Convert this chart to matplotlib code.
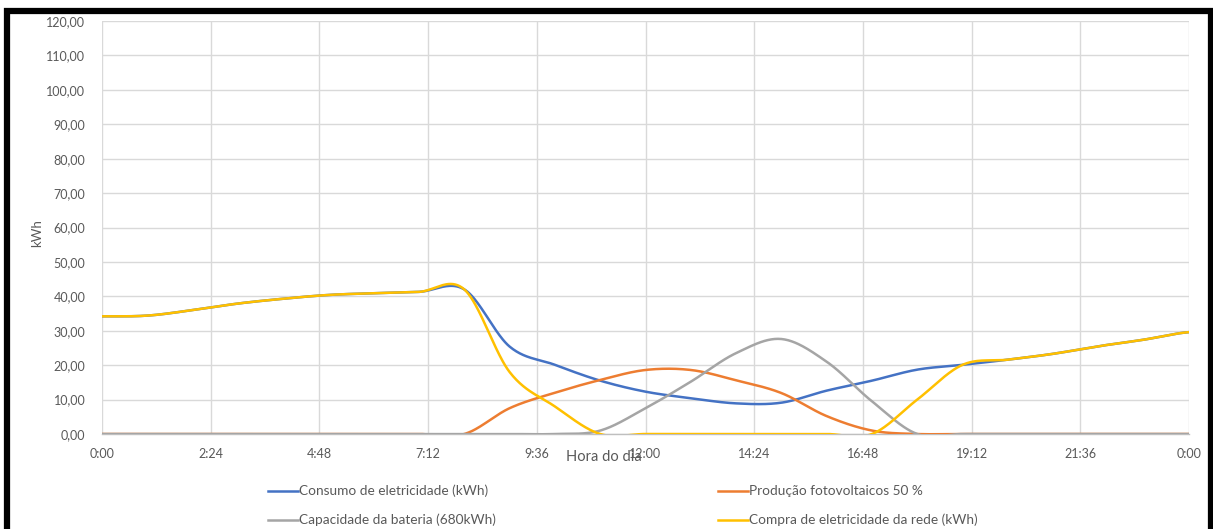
import numpy as np
import matplotlib
matplotlib.use("Agg")
import matplotlib.pyplot as plt
from matplotlib.patches import Rectangle
from matplotlib.lines import Line2D

plt.rcParams['font.family'] = ['Lato', 'DejaVu Sans']

# Hourly readings (hour of day 0..24)
hours = list(range(25))
consumo = [34.2, 34.4, 36.0, 37.9, 39.3, 40.4, 40.9, 41.3, 42.0, 25.4, 20.1, 15.5, 12.3,
           10.4, 8.9, 9.1, 12.6, 15.5, 18.7, 20.1, 21.6, 23.3, 25.5, 27.4, 29.6]
producao_pv = [0, 0, 0, 0, 0, 0, 0, 0, 0, 7.5, 12.0, 15.7, 18.6,
               18.6, 15.6, 11.9, 5.2, 1.0, 0, 0, 0, 0, 0, 0, 0]
bateria = [0, 0, 0, 0, 0, 0, 0, 0, 0, 0, 0, 1.0, 7.5,
           15.2, 23.5, 27.6, 21.0, 9.5, 0, 0, 0, 0, 0, 0, 0]
compra_rede = [34.2, 34.4, 36.0, 37.9, 39.3, 40.4, 40.9, 41.3, 42.0, 18.0, 8.0, 0, 0,
               0, 0, 0, 0, 0, 10.0, 20.1, 21.6, 23.3, 25.5, 27.4, 29.6]

series_labels = ["Consumo de eletricidade (kWh)", "Produção fotovoltaicos 50 %",
                 "Capacidade da bateria (680kWh)", "Compra de eletricidade da rede (kWh)"]
series_colors = ["#4472C4", "#ED7D31", "#A5A5A5", "#FFC000"]

x_ticks = [0, 2.4, 4.8, 7.2, 9.6, 12.0, 14.4, 16.8, 19.2, 21.6, 24.0]
x_ticklabels = ["0:00", "2:24", "4:48", "7:12", "9:36", "12:00", "14:24", "16:48",
                "19:12", "21:36", "0:00"]
y_ticks = list(range(0, 121, 10))
y_ticklabels = [f"{v},00" for v in y_ticks]


def smooth(xs, ys, n=40):
    """Cardinal (Catmull-Rom) spline through the points, like a smoothed line chart."""
    xs = np.asarray(xs, float)
    ys = np.asarray(ys, float)
    m = len(ys)
    t = np.empty(m)
    t[1:-1] = (ys[2:] - ys[:-2]) / 2.0
    t[0] = (ys[1] - ys[0]) / 2.0
    t[-1] = (ys[-1] - ys[-2]) / 2.0
    out_x, out_y = [], []
    for i in range(m - 1):
        s = np.linspace(0, 1, n, endpoint=(i == m - 2))
        h00 = 2 * s**3 - 3 * s**2 + 1
        h10 = s**3 - 2 * s**2 + s
        h01 = -2 * s**3 + 3 * s**2
        h11 = s**3 - s**2
        out_y.append(h00 * ys[i] + h10 * t[i] + h01 * ys[i + 1] + h11 * t[i + 1])
        out_x.append(xs[i] + s * (xs[i + 1] - xs[i]))
    return np.concatenate(out_x), np.concatenate(out_y)


W, H = 1213, 529
fig = plt.figure(figsize=(W / 100, H / 100), dpi=100)
fig.patch.set_facecolor("white")

# plot area in pixels: left 102, right 1189, top 21, bottom 434
left, right, top, bottom = 102, 1189, 21, 434
ax = fig.add_axes([left / W, 1 - bottom / H, (right - left) / W, (bottom - top) / H])

for ys, col in zip([consumo, producao_pv, bateria, compra_rede], series_colors):
    sx, sy = smooth(hours, ys)
    ax.plot(sx, sy, color=col, lw=1.8, solid_capstyle="round", zorder=3)

ax.set_xlim(0, 24)
ax.set_ylim(0, 120)
ax.set_xticks(x_ticks)
ax.set_xticklabels(x_ticklabels)
ax.set_yticks(y_ticks)
ax.set_yticklabels(y_ticklabels)
ax.grid(True, color="#D9D9D9", lw=1.0)
ax.set_axisbelow(True)
for side in ["left", "right", "top"]:
    ax.spines[side].set_visible(False)
ax.spines["bottom"].set_color("#BFBFBF")
ax.spines["bottom"].set_linewidth(1.0)
ax.tick_params(axis="both", length=0, colors="#595959", labelsize=9)
ax.tick_params(axis="x", pad=10)
ax.tick_params(axis="y", pad=12)

# axis titles
fig.text(604 / W, 1 - 457 / H, "Hora do dia", ha="center", va="center",
         fontsize=10.5, color="#595959")
fig.text(37 / W, 1 - 233 / H, "kWh", ha="center", va="center", rotation=90,
         fontsize=9.5, color="#595959")

# legend, two columns
legend_pos = [(268, 491), (718, 491), (268, 520), (718, 520)]
for (lx, ly), lab, col in zip(legend_pos, series_labels, series_colors):
    fig.add_artist(Line2D([lx / W, (lx + 30) / W], [1 - ly / H, 1 - ly / H],
                          color=col, lw=1.8, transform=fig.transFigure))
    fig.text((lx + 31) / W, 1 - ly / H, lab, ha="left", va="center",
             fontsize=9.8, color="#595959")

# black frame around the chart
fig.add_artist(Rectangle((7 / W, -0.1), (1211 - 7) / W, 1 - 10.5 / H + 0.1,
                         transform=fig.transFigure, fill=False,
                         edgecolor="black", lw=4.5, zorder=10))

fig.savefig("out.png", dpi=100, facecolor="white")
